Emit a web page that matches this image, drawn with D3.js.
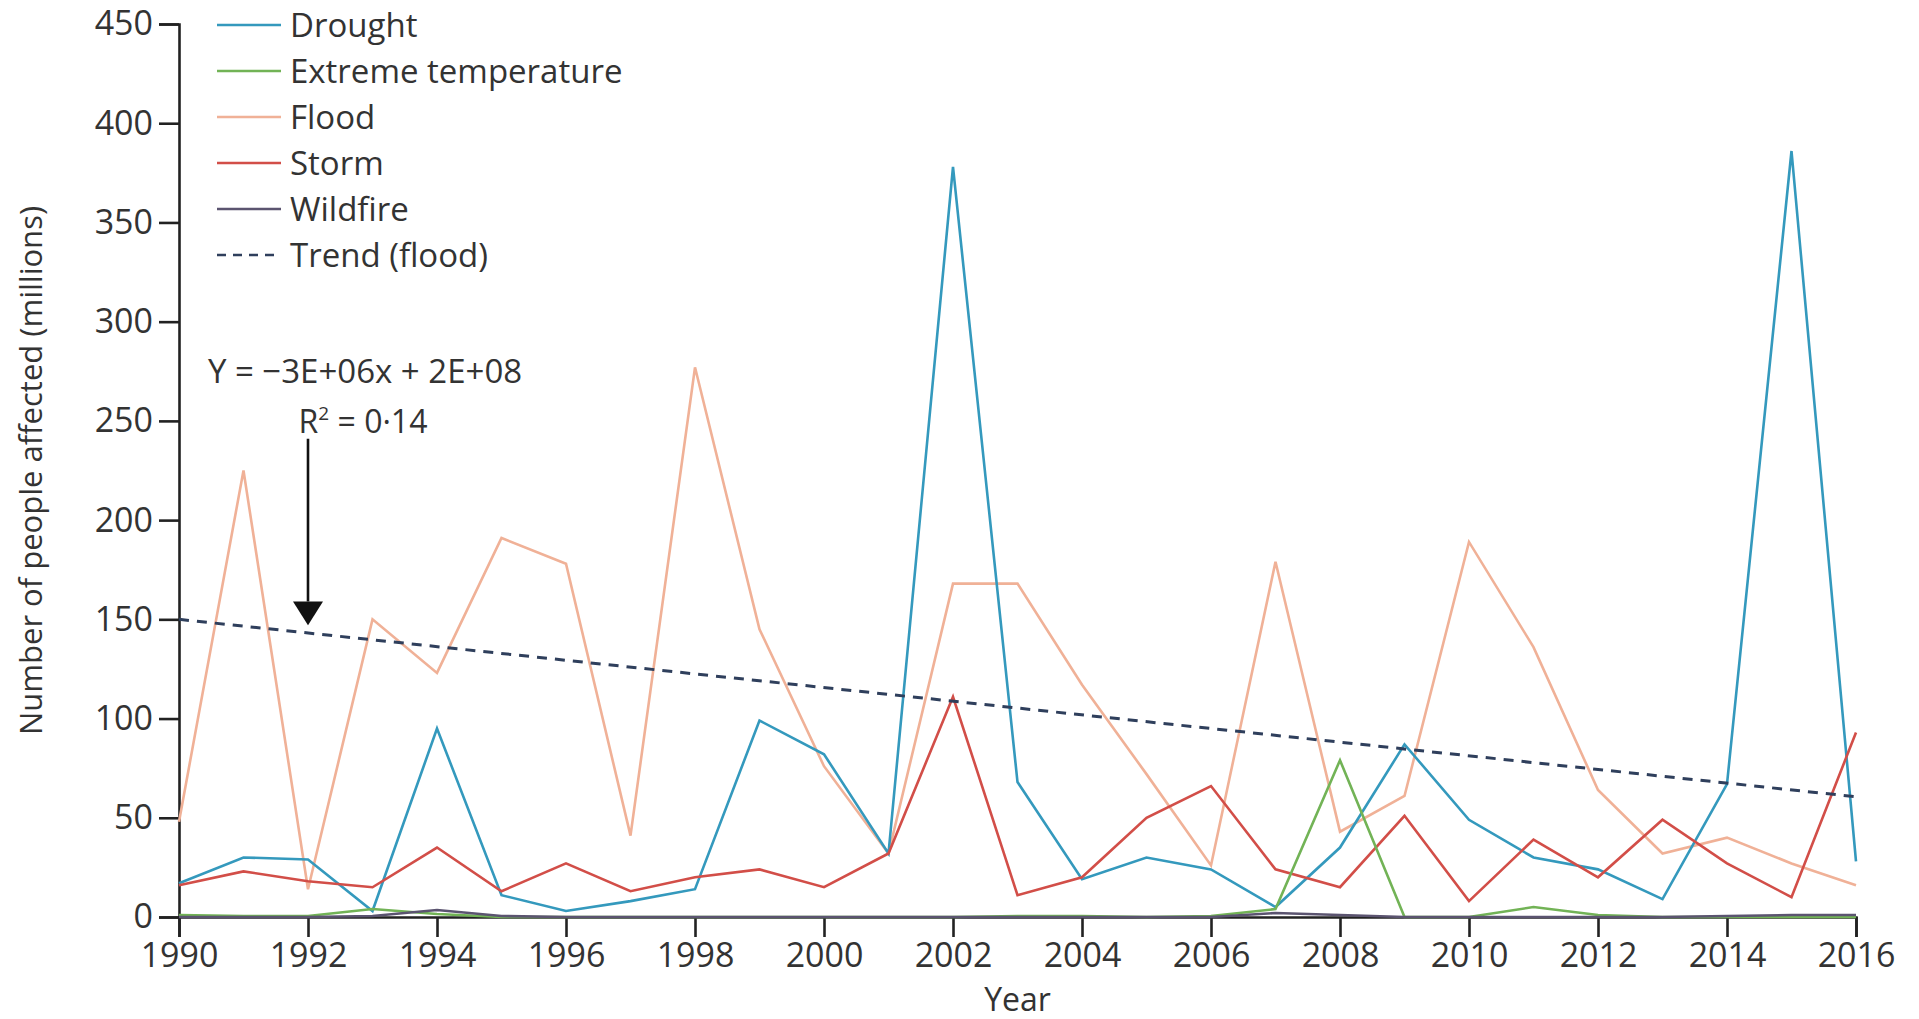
<!DOCTYPE html>
<html>
<head>
<meta charset="utf-8">
<script src="https://cdn.jsdelivr.net/npm/d3@7"></script>
<style>
  html, body { margin: 0; padding: 0; background: #fff; }
  svg { display: block; font-family: 'Open Sans', sans-serif; }
  .axis path, .axis line { stroke: #222; stroke-width: 2.6px; }
  .axis text { fill: #333; font-size: 34px; font-family: 'Open Sans', sans-serif; }
</style>
</head>
<body>
<div id="chart"></div>
<script>
const years = d3.range(1990, 2017);

const drought = [17, 30, 29, 3, 95, 11, 3, 8, 14, 99, 82, 32, 378, 68, 19, 30, 24, 5, 35, 87, 49, 30, 24, 9, 67, 386, 28];
const extremeTemp = [1, 0.5, 0.5, 4, 1.5, 0, 0, 0, 0, 0, 0, 0, 0, 0.5, 0.5, 0, 0.5, 4, 79, 0, 0, 5, 1, 0, 0, 0, 0];
const flood = [48, 225, 14, 150, 123, 191, 178, 41, 277, 145, 76, 32, 168, 168, 117, 72, 26, 179, 43, 61, 189, 136, 64, 32, 40, 27, 16];
const storm = [16, 23, 18, 15, 35, 13, 27, 13, 20, 24, 15, 32, 111, 11, 20, 50, 66, 24, 15, 51, 8, 39, 20, 49, 27, 10, 93];
const wildfire = [0, 0, 0, 0.5, 3.5, 0.5, 0, 0, 0, 0, 0, 0, 0, 0, 0, 0, 0, 2, 1, 0, 0, 0, 0, 0, 0.5, 1, 1];

// flood trend line end points
const trendYears = [1990, 2016];
const trendValues = [150, 60.6];

const yTicks = [0, 50, 100, 150, 200, 250, 300, 350, 400, 450];
const xTicks = [1990, 1992, 1994, 1996, 1998, 2000, 2002, 2004, 2006, 2008, 2010, 2012, 2014, 2016];

const seriesNames = ['Drought', 'Extreme temperature', 'Flood', 'Storm', 'Wildfire'];
const seriesValues = [drought, extremeTemp, flood, storm, wildfire];
const seriesColors = ['#3499bd', '#72b356', '#f0b197', '#d24e48', '#5b5470'];
const drawOrder = [2, 0, 3, 1, 4];

const width = 1919;
const height = 1019;

const svg = d3.select('#chart')
  .append('svg')
  .attr('width', width)
  .attr('height', height);

const x = d3.scaleLinear().domain([1990, 2016]).range([179, 1856]);
const y = d3.scaleLinear().domain([0, 450]).range([917, 24]);

svg.append('g')
  .attr('class', 'axis')
  .attr('transform', `translate(0,${y(0)})`)
  .call(d3.axisBottom(x).tickValues(xTicks).tickFormat(d3.format('d')).tickSize(20).tickPadding(6));

svg.append('g')
  .attr('class', 'axis')
  .attr('transform', `translate(${x(1990)},0)`)
  .call(d3.axisLeft(y).tickValues(yTicks).tickFormat(d3.format('d')).tickSize(20).tickPadding(6));

const line = d3.line()
  .x((d, i) => x(years[i]))
  .y(d => y(d));

drawOrder.forEach(k => {
  svg.append('path')
    .datum(seriesValues[k])
    .attr('fill', 'none')
    .attr('stroke', seriesColors[k])
    .attr('stroke-width', 2.6)
    .attr('stroke-linejoin', 'miter')
    .attr('d', line);
});

svg.append('path')
  .datum(trendValues)
  .attr('fill', 'none')
  .attr('stroke', '#2f3f5c')
  .attr('stroke-width', 3)
  .attr('stroke-dasharray', '10 8')
  .attr('d', d3.line().x((d, i) => x(trendYears[i])).y(d => y(d)));

// legend
const legend = svg.append('g').attr('transform', 'translate(217,25)');
const legendItems = seriesNames.map((n, i) => ({ name: n, color: seriesColors[i], dash: null }))
  .concat([{ name: 'Trend (flood)', color: '#2f3f5c', dash: '9 7' }]);

legendItems.forEach((d, i) => {
  const g = legend.append('g').attr('transform', `translate(0,${i * 46})`);
  g.append('line')
    .attr('x1', 0).attr('x2', 64)
    .attr('stroke', d.color)
    .attr('stroke-width', 2.6)
    .attr('stroke-dasharray', d.dash);
  g.append('text')
    .attr('x', 73)
    .attr('dy', '0.36em')
    .attr('fill', '#333')
    .attr('font-size', '33px')
    .text(d.name);
});

// regression annotation
svg.append('text')
  .attr('x', 365).attr('y', 383)
  .attr('text-anchor', 'middle')
  .attr('fill', '#333')
  .attr('font-size', '33px')
  .text('Y = \u22123E+06x + 2E+08');

const r2 = svg.append('text')
  .attr('x', 363).attr('y', 433)
  .attr('text-anchor', 'middle')
  .attr('fill', '#333')
  .attr('font-size', '32px');
r2.append('tspan').text('R');
r2.append('tspan').attr('font-size', '19px').attr('dy', -13).text('2');
r2.append('tspan').attr('dy', 13).text(' = 0\u00b714');

const arrowYear = 1992;
const arrowFrom = 241;
const arrowHead = 159;
const arrowTo = 147;

svg.append('line')
  .attr('x1', x(arrowYear)).attr('x2', x(arrowYear))
  .attr('y1', y(arrowFrom)).attr('y2', y(arrowHead))
  .attr('stroke', '#111')
  .attr('stroke-width', 2.6);

svg.append('path')
  .attr('d', `M${x(arrowYear) - 15},${y(arrowHead)}L${x(arrowYear) + 15},${y(arrowHead)}L${x(arrowYear)},${y(arrowTo)}Z`)
  .attr('fill', '#111');

// axis titles
svg.append('text')
  .attr('transform', `translate(31,${(y(0) + y(450)) / 2}) rotate(-90)`)
  .attr('text-anchor', 'middle')
  .attr('dy', '0.35em')
  .attr('fill', '#333')
  .attr('font-size', '31px')
  .text('Number of people affected (millions)');

svg.append('text')
  .attr('x', (x(1990) + x(2016)) / 2)
  .attr('y', 1011)
  .attr('text-anchor', 'middle')
  .attr('fill', '#333')
  .attr('font-size', '32px')
  .text('Year');
</script>
</body>
</html>
